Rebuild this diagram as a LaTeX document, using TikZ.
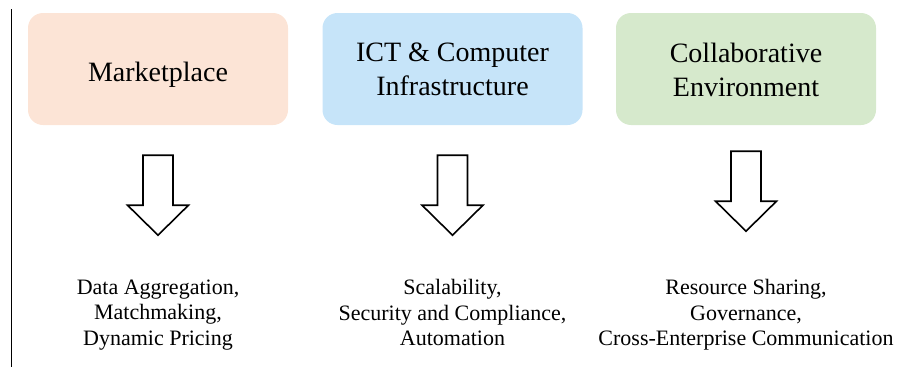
\documentclass[tikz,border=0pt]{standalone}
\usepackage{fontspec}
\setmainfont{Liberation Serif}
\newfontfamily\labelfont{Liberation Serif}
\definecolor{mktfill}{RGB}{252,228,214}
\definecolor{ictfill}{RGB}{198,228,249}
\definecolor{colfill}{RGB}{214,233,204}
\begin{document}
\begin{tikzpicture}[x=1pt, y=-1pt,
		box/.style={rounded corners=15pt, minimum width=260pt, minimum height=112pt, inner sep=0pt},
		boxtext/.style={align=center, font=\labelfont\fontsize{28}{34}\selectfont,
			execute at begin node=\strut, execute at end node=\strut},
		feat/.style={align=center, font=\labelfont\fontsize{22}{25.5}\selectfont,
			execute at begin node=\strut, execute at end node=\strut},
		blockarrow/.style={draw, line width=1.6pt, fill=white, line join=miter}]
		\useasboundingbox (0,0) rectangle (905,367);
		% rule on the left
		\coordinate (ruletop) at (11.7,9);
		\coordinate (rulebot) at (11.7,367);
		\draw[line width=1.3pt] (ruletop) -- (rulebot);
		
		% the three boxes
		\node[box, fill=mktfill] (mkt) at (158,69) {};
		\node[box, fill=ictfill] (ict) at (452.5,69) {};
		\node[box, fill=colfill] (col) at (746,69) {};
		\node[boxtext] (mkttext) at ([yshift=-5.5pt]mkt.center) {Marketplace};
		\node[boxtext] (icttext) at ([yshift=-5.5pt]ict.center) {ICT \& Computer\\Infrastructure};
		\node[boxtext] (coltext) at ([yshift=-5.5pt]col.center) {Collaborative\\Environment};
		
		% hollow arrows under each box
		\foreach \n/\gap in {mkt/30,ict/30,col/26} {
			\draw[blockarrow] ([yshift=-\gap pt]\n.south) -- ++(15,0) -- ++(0,50) -- ++(15.5,0)
			-- ++(-30.5,30) -- ++(-30.5,-30) -- ++(15.5,0) -- ++(0,-50) -- cycle;
		};
		
		% what each one covers
		\node[feat] (mktfeat) at (158,316.5) {Data Aggregation,\\Matchmaking,\\Dynamic Pricing};
		\node[feat] (ictfeat) at (452.5,316.5) {Scalability,\\Security and Compliance,\\Automation};
		\node[feat] (colfeat) at (746,316.5) {Resource Sharing,\\Governance,\\Cross-Enterprise Communication};
\end{tikzpicture}
\end{document}
